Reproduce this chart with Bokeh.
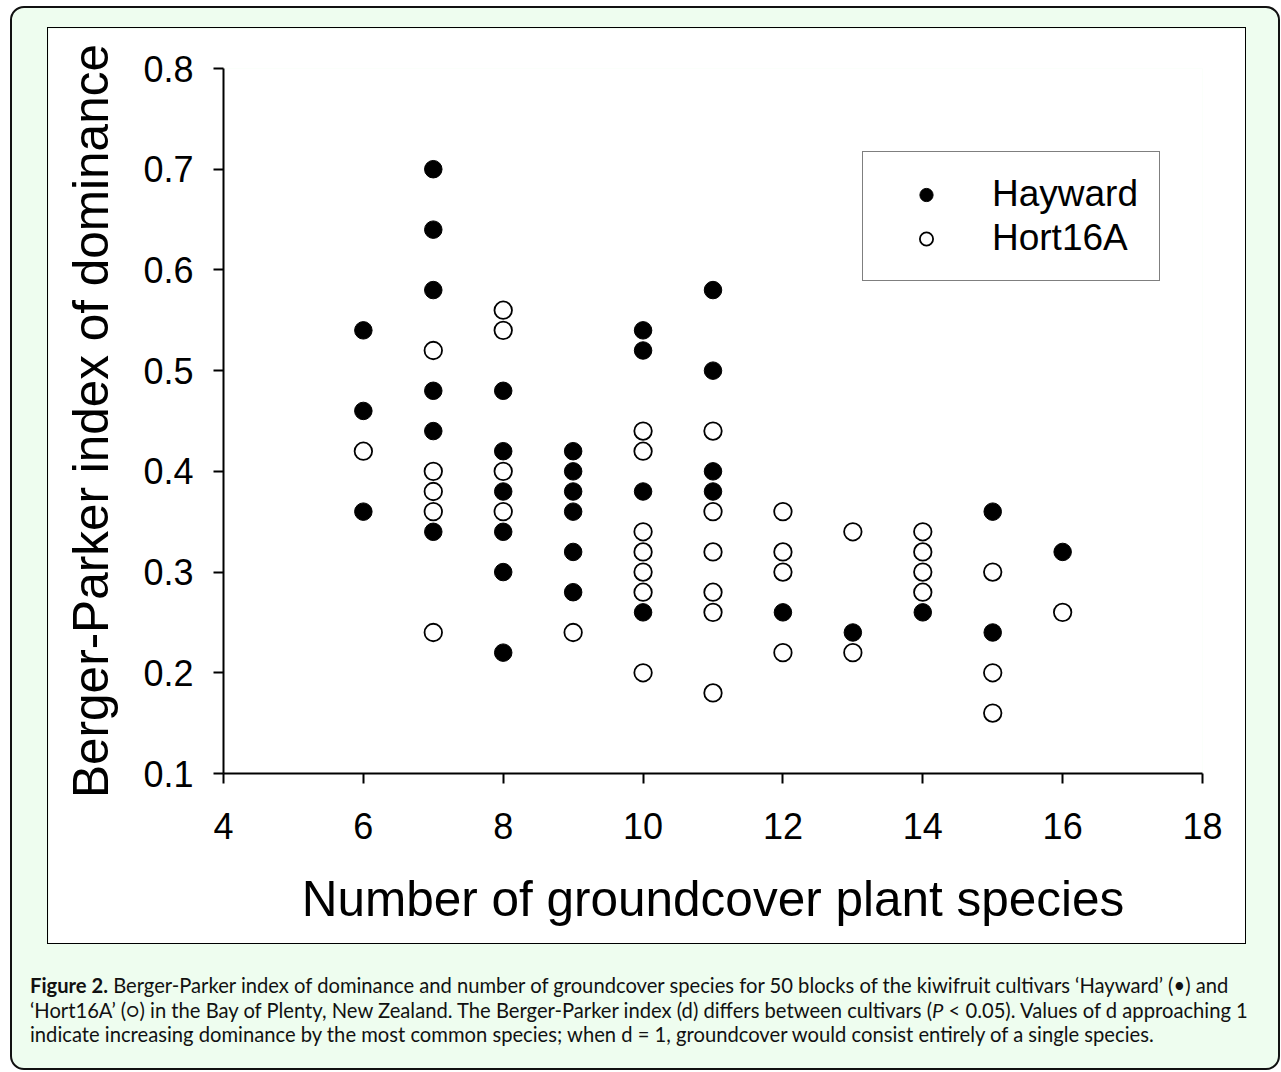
from bokeh.plotting import figure
from bokeh.models import Range1d, FixedTicker, PrintfTickFormatter, Legend, LegendItem, Div
from bokeh.layouts import column
from bokeh.embed import file_html
from bokeh.resources import INLINE

# ---- data ----
hayward_x = [6, 6, 6,
             7, 7, 7, 7, 7, 7,
             8, 8, 8, 8, 8, 8,
             9, 9, 9, 9, 9, 9,
             10, 10, 10, 10,
             11, 11, 11, 11,
             12, 13, 14, 15, 15, 16]
hayward_y = [0.54, 0.46, 0.36,
             0.70, 0.64, 0.58, 0.48, 0.44, 0.34,
             0.48, 0.42, 0.38, 0.34, 0.30, 0.22,
             0.42, 0.40, 0.38, 0.36, 0.32, 0.28,
             0.54, 0.52, 0.38, 0.26,
             0.58, 0.50, 0.40, 0.38,
             0.26, 0.24, 0.26, 0.36, 0.24, 0.32]
hort_x = [6,
          7, 7, 7, 7, 7,
          8, 8, 8, 8,
          9,
          10, 10, 10, 10, 10, 10, 10,
          11, 11, 11, 11, 11, 11,
          12, 12, 12, 12,
          13, 13,
          14, 14, 14, 14,
          15, 15, 15,
          16]
hort_y = [0.42,
          0.52, 0.40, 0.38, 0.36, 0.24,
          0.56, 0.54, 0.40, 0.36,
          0.24,
          0.44, 0.42, 0.34, 0.32, 0.30, 0.28, 0.20,
          0.44, 0.36, 0.32, 0.28, 0.26, 0.18,
          0.36, 0.32, 0.30, 0.22,
          0.34, 0.22,
          0.34, 0.32, 0.30, 0.28,
          0.30, 0.20, 0.16,
          0.26]
x_ticks = [4, 6, 8, 10, 12, 14, 16, 18]
y_ticks = [0.1, 0.2, 0.3, 0.4, 0.5, 0.6, 0.7, 0.8]
series_names = ["Hayward", "Hort16A"]
x_title = "Number of groundcover plant species"
y_title = "Berger-Parker index of dominance"
caption_lines = [
    "<b>Figure 2.</b> Berger-Parker index of dominance and number of groundcover species for 50 blocks of the kiwifruit cultivars \u2018Hayward\u2019 (\u2022) and",
    "\u2018Hort16A\u2019 (\u25cb) in the Bay of Plenty, New Zealand. The Berger-Parker index (d) differs between cultivars (<i>P</i> &lt; 0.05). Values of d approaching 1",
    "indicate increasing dominance by the most common species; when d = 1, groundcover would consist entirely of a single species.",
]

FONT = "Liberation Sans"

p = figure(width=1197, height=915,
           x_range=Range1d(4, 18), y_range=Range1d(0.1, 0.8),
           output_backend="svg", toolbar_location=None,
           min_border_left=175, min_border_right=43,
           min_border_top=40, min_border_bottom=170,
           background_fill_color="white", border_fill_color="white",
           outline_line_color=None)
p.xgrid.visible = False
p.ygrid.visible = False

for ax in (p.xaxis[0], p.yaxis[0]):
    ax.axis_line_width = 2
    ax.axis_line_color = "black"
    ax.major_tick_line_width = 2
    ax.major_tick_line_color = "black"
    ax.major_tick_out = 10
    ax.major_tick_in = 0
    ax.minor_tick_out = 0
    ax.minor_tick_in = 0
    ax.major_label_text_font = FONT
    ax.major_label_text_font_size = "36px"
    ax.major_label_text_color = "black"
    ax.axis_label_text_font = FONT
    ax.axis_label_text_font_size = "49.5px"
    ax.axis_label_text_font_style = "normal"
    ax.axis_label_text_color = "black"

p.xaxis.ticker = FixedTicker(ticks=x_ticks)
p.yaxis.ticker = FixedTicker(ticks=y_ticks)
p.xaxis.formatter = PrintfTickFormatter(format="%d")
p.yaxis.formatter = PrintfTickFormatter(format="%.1f")
p.xaxis.major_label_standoff = 29
p.yaxis.major_label_standoff = 20
p.xaxis.axis_label = x_title
p.yaxis.axis_label = y_title
p.xaxis.axis_label_standoff = 29
p.yaxis.axis_label_standoff = 22

r_hay = p.scatter(hayward_x, hayward_y, marker="circle", size=17.5,
                  fill_color="black", line_color="black", line_width=1)
r_hort = p.scatter(hort_x, hort_y, marker="circle", size=17.5,
                   fill_color="white", line_color="black", line_width=1.8)

legend = Legend(items=[LegendItem(label=series_names[0], renderers=[r_hay]),
                       LegendItem(label=series_names[1], renderers=[r_hort])],
                location=(639, 492),
                border_line_color="black", border_line_width=1.5,
                background_fill_color="white", background_fill_alpha=1,
                padding=21, spacing=2, margin=0,
                glyph_width=84, glyph_height=33, label_standoff=24,
                label_text_font=FONT, label_text_font_size="37px",
                label_text_color="black")
p.add_layout(legend)

p.margin = (20, 0, 0, 36)
p.styles = {"outline": "1px solid black", "outline-offset": "0px"}

cap = Div(text="<br>".join(caption_lines), width=1240, height=80,
          margin=(30, 0, 0, 18),
          styles={"font-family": "Lato", "font-size": "20.2px",
                  "line-height": "24.5px", "color": "#111111",
                  "white-space": "nowrap"})

layout = column(p, cap, width=1270, height=1064,
                styles={"background-color": "#eefdef",
                        "border": "2px solid #111111",
                        "border-radius": "14px",
                        "box-sizing": "border-box",
                        "margin": "6px 0 0 10px"})

open("out.html", "w").write(file_html(layout, INLINE))
